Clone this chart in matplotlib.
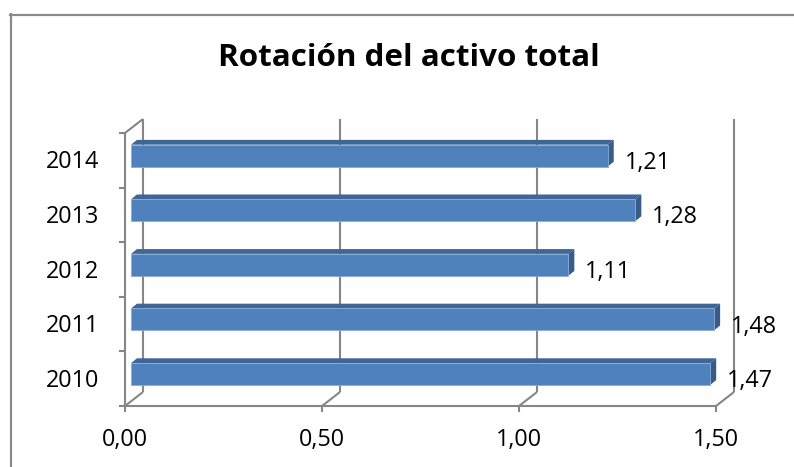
import matplotlib
matplotlib.use("Agg")
import matplotlib.pyplot as plt
from matplotlib.patches import Polygon
from matplotlib.lines import Line2D
import numpy as np

# Data
years = ["2010", "2011", "2012", "2013", "2014"]
rotation = [1.47, 1.48, 1.11, 1.28, 1.21]
x_ticks = [0.0, 0.5, 1.0, 1.5]
x_tick_labels = ["0,00", "0,50", "1,00", "1,50"]
title = "Rotación del activo total"

FONT = "Open Sans"
GRID = "#868686"
FRONT = "#4F81BD"
TOP = "#3E6696"
SIDE = "#375C88"
LABEL_SIZE = 16.8

W, H, DPI = 794, 467, 100
fig = plt.figure(figsize=(W / DPI, H / DPI), dpi=DPI)
fig.patch.set_facecolor("white")

# front plane of the 3-D box, in pixels (left, bottom, width, height)
fx0, fx1 = 125, 716
fy_top, fy_bot = 133, 406
ax = fig.add_axes([fx0 / W, (H - fy_bot) / H, (fx1 - fx0) / W, (fy_bot - fy_top) / H])
ax.set_xlim(0, 1.5)
ax.set_ylim(-0.5, len(years) - 0.5)
ax.axis("off")

fig.canvas.draw()
T = ax.transData
Ti = T.inverted()


def shift(x, y, dx, dy):
    """Move a data point by (dx, dy) display pixels, returning data coords."""
    p = T.transform((x, y)) + np.array([dx, dy])
    return Ti.transform(p)


# depth offsets (pixels): back wall and the bar slab
WALL = (18, 14)
BAR_F = (6, 4.7)
BAR_B = (12, 9.5)

ymin, ymax = ax.get_ylim()
lw = 1.5


def seg(p, q, **kw):
    ax.add_line(Line2D([p[0], q[0]], [p[1], q[1]], color=GRID, lw=lw,
                       clip_on=False, solid_capstyle="butt", **kw))


# back wall gridlines and floor diagonals
for xv in x_ticks:
    b0 = shift(xv, ymin, *WALL)
    b1 = shift(xv, ymax, *WALL)
    seg(b0, b1)
    seg((xv, ymin), b0)
    # tick marks below the front floor edge
    seg((xv, ymin), shift(xv, ymin, 0, -6))

# floor front edge and left wall
seg((0, ymin), (1.5, ymin))
seg((0, ymin), (0, ymax))
seg((0, ymax), shift(0, ymax, *WALL))
for k in range(len(years) + 1):
    yv = ymin + k
    seg((0, yv), shift(0, yv, -6, 0))

# bars
bh = 0.40
for i, v in enumerate(rotation):
    y0, y1 = i - bh / 2, i + bh / 2
    f00 = shift(0, y0, *BAR_F); f10 = shift(v, y0, *BAR_F)
    f11 = shift(v, y1, *BAR_F); f01 = shift(0, y1, *BAR_F)
    b10 = shift(v, y0, *BAR_B); b11 = shift(v, y1, *BAR_B)
    b01 = shift(0, y1, *BAR_B)
    ax.add_patch(Polygon([f01, f11, b11, b01], closed=True, fc=TOP, ec="none", clip_on=False, zorder=3))
    ax.add_patch(Polygon([f10, b10, b11, f11], closed=True, fc=SIDE, ec="none", clip_on=False, zorder=3))
    ax.add_patch(Polygon([f00, f10, f11, f01], closed=True, fc=FRONT, ec="#8DAAD3", lw=0.6,
                         clip_on=False, zorder=4))
    ax.annotate(f"{v:.2f}".replace(".", ","), xy=(v, i), xytext=(23, -2.5),
                textcoords="offset pixels", ha="left", va="center",
                fontsize=LABEL_SIZE, family=FONT, color="black", zorder=5, annotation_clip=False)

# axis labels
for xv, lab in zip(x_ticks, x_tick_labels):
    ax.annotate(lab, xy=(xv, ymin), xytext=(0, -34), textcoords="offset pixels",
                ha="center", va="center", fontsize=LABEL_SIZE, family=FONT, annotation_clip=False)
for i, lab in enumerate(years):
    ax.annotate(lab, xy=(0, i), xytext=(-26, -2), textcoords="offset pixels",
                ha="right", va="center", fontsize=LABEL_SIZE, family=FONT, annotation_clip=False)

fig.text(409 / W, 1 - 58 / H, title, ha="center", va="center",
         fontsize=22.6, fontweight="bold", family=FONT)

# chart area border
fig.add_artist(Line2D([10.5 / W, 10.5 / W], [0, 1 - 14 / H], color="#8A8A8A", lw=1.6,
                      transform=fig.transFigure))
fig.add_artist(Line2D([10 / W, 1], [1 - 14.5 / H, 1 - 14.5 / H], color="#8A8A8A", lw=1.6,
                      transform=fig.transFigure))

fig.savefig("out.png", dpi=DPI, facecolor="white")
